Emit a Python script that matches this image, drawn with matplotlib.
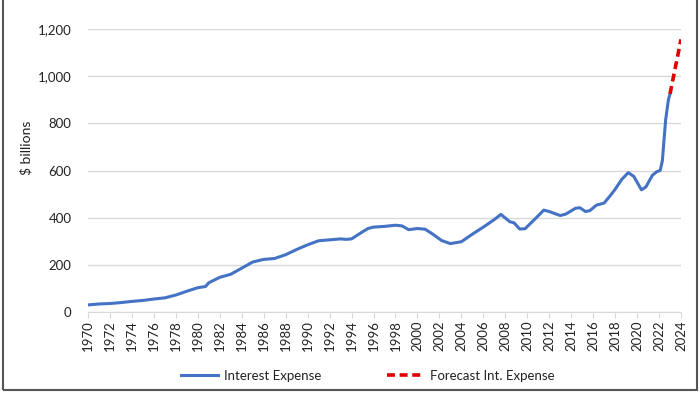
import matplotlib
matplotlib.use("Agg")
import matplotlib.pyplot as plt
from matplotlib.patches import Rectangle
from matplotlib.lines import Line2D

plt.rcParams['font.family'] = ['Lato', 'DejaVu Sans']

years = [1970, 1971, 1972, 1973, 1974, 1975, 1976, 1977, 1978, 1979, 1980, 1980.7,
         1981, 1982, 1983, 1984, 1985, 1986, 1987, 1988, 1989, 1990, 1991, 1992,
         1993, 1993.5, 1994, 1995, 1995.5, 1996, 1997, 1998, 1998.6, 1999.2, 2000,
         2000.7, 2001.4, 2002.2, 2003, 2004, 2005, 2006, 2007, 2007.6, 2008.4,
         2008.8, 2009.3, 2009.8, 2010.5, 2011, 2011.5, 2012, 2013, 2013.5, 2014.4,
         2014.8, 2015.3, 2015.7, 2016.3, 2017, 2017.5, 2018, 2018.6, 2019.2, 2019.7,
         2020.4, 2020.8, 2021.4, 2021.8, 2022.1, 2022.3, 2022.6, 2022.85, 2023.0]
interest = [30, 34, 36, 40, 45, 49, 55, 60, 72, 88, 103, 108,
            124, 147, 160, 186, 212, 223, 227, 243, 265, 285, 302, 306,
            310, 308, 310, 340, 354, 360, 363, 368, 365, 349, 354,
            351, 330, 303, 290, 298, 330, 360, 392, 414, 383,
            378, 352, 353, 385, 408, 432, 426, 409, 415, 440,
            442, 426, 430, 453, 462, 490, 520, 562, 591, 575,
            518, 530, 580, 595, 600, 640, 814, 899, 925]

fc_years = [2023.0, 2024.0]
forecast = [925, 1156]

xticks = list(range(1970, 2025, 2))
yticks = [0, 200, 400, 600, 800, 1000, 1200]

fig = plt.figure(figsize=(7, 3.94), dpi=100)
ax = fig.add_axes([88/700, 1-312/394, (681-88)/700, (312-29)/394])

ax.plot(years, interest, color='#4472C4', lw=2.2, label='Interest Expense',
        solid_joinstyle='round', solid_capstyle='round')
ax.plot(fc_years, forecast, color='#E00000', lw=2.6, ls=(0, (2.2, 1.3)),
        label='Forecast Int. Expense')

ax.set_xlim(1970, 2024)
ax.set_ylim(0, 1200)
ax.set_xticks(xticks)
ax.set_xticklabels([str(x) for x in xticks], rotation=90, fontsize=9.5, color='#222222')
ax.set_yticks(yticks)
ax.set_yticklabels([f"{v:,}" for v in yticks], fontsize=9.5, color='#222222')
ax.yaxis.grid(True, color='#D9D9D9', lw=1)
ax.set_axisbelow(True)
for s in ['left', 'right', 'top']:
    ax.spines[s].set_visible(False)
ax.spines['bottom'].set_color('#D9D9D9')
ax.tick_params(axis='y', length=0, pad=12)
ax.tick_params(axis='x', length=4, color='#D9D9D9', pad=2)
ax.set_ylabel('$ billions', fontsize=10, color='#222222')
ax.yaxis.set_label_coords((33-88)/593, 0.58)

leg = fig.legend(handles=[Line2D([0], [0], color='#4472C4', lw=2.2),
                          Line2D([0], [0], color='#E00000', lw=2.6, ls=(0, (2.2, 1.3)))],
                 labels=['Interest Expense', 'Forecast Int. Expense'],
                 loc='center', bbox_to_anchor=(0.525, 1-376/394), ncol=2, frameon=False,
                 fontsize=9.5, handlelength=2.8, columnspacing=5.0, handletextpad=0.45)
for t in leg.get_texts():
    t.set_color('#222222')

fig.patches.append(Rectangle((0.004, 0.01), 0.992, 1.2, transform=fig.transFigure,
                             fill=False, edgecolor='#555555', lw=1.5))

fig.savefig('out.png', dpi=100)
